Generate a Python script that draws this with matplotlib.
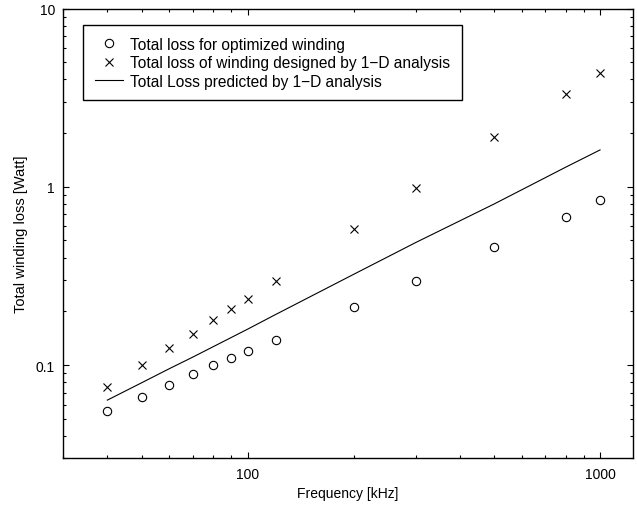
import matplotlib
matplotlib.use("Agg")
import matplotlib.pyplot as plt
from matplotlib.ticker import FuncFormatter, NullFormatter, LogLocator

plt.rcParams['font.family'] = ['Liberation Sans', 'DejaVu Sans']

# frequency points [kHz]
freq = [40, 50, 60, 70, 80, 90, 100, 120, 200, 300, 500, 800, 1000]

# total loss for optimized winding [W]
loss_opt = [0.055, 0.0665, 0.0773, 0.0893, 0.0995, 0.110, 0.120, 0.138,
            0.213, 0.297, 0.458, 0.681, 0.843]

# total loss of winding designed by 1-D analysis [W]
loss_1d = [0.0756, 0.100, 0.124, 0.150, 0.178, 0.205, 0.235, 0.297,
           0.582, 0.99, 1.91, 3.33, 4.32]

# total loss predicted by 1-D analysis [W]
loss_pred = [0.0636, 0.0795, 0.0955, 0.111, 0.127, 0.143, 0.159, 0.192,
             0.323, 0.487, 0.80, 1.29, 1.61]

fig = plt.figure(figsize=(6.37, 5.06), dpi=100)
ax = fig.add_axes([0.0994, 0.0923, 0.8943, 0.8889])

ax.plot(freq, loss_opt, linestyle='none', marker='o', markersize=6,
        markerfacecolor='none', markeredgecolor='black', markeredgewidth=0.8,
        label='Total loss for optimized winding')
ax.plot(freq, loss_1d, linestyle='none', marker='x', markersize=6,
        color='black', markeredgewidth=0.8,
        label='Total loss of winding designed by 1\u2212D analysis')
ax.plot(freq, loss_pred, color='black', linewidth=0.8,
        label='Total Loss predicted by 1\u2212D analysis')

ax.set_xscale('log')
ax.set_yscale('log')
ax.set_xlim(30, 1240)
ax.set_ylim(0.03, 10)

fmt = FuncFormatter(lambda v, p: ('%g' % v))
ax.xaxis.set_major_formatter(fmt)
ax.yaxis.set_major_formatter(fmt)
ax.xaxis.set_minor_formatter(NullFormatter())
ax.yaxis.set_minor_formatter(NullFormatter())
ax.xaxis.set_minor_locator(LogLocator(base=10, subs=range(2, 10)))
ax.yaxis.set_minor_locator(LogLocator(base=10, subs=range(2, 10)))

ax.tick_params(which='both', direction='in', top=True, right=True,
               labelsize=10, width=0.8)
ax.tick_params(which='major', length=4, pad=6)
ax.tick_params(which='minor', length=2)
for s in ax.spines.values():
    s.set_linewidth(1.0)

ax.set_xlabel('Frequency [kHz]', fontsize=10, labelpad=4)
ax.set_ylabel('Total winding loss [Watt]', fontsize=10.5, labelpad=6)

leg = ax.legend(loc='upper left', bbox_to_anchor=(0.0346, 0.963),
                borderaxespad=0, fancybox=False, framealpha=1,
                edgecolor='black', fontsize=11.2, handlelength=1.8,
                handletextpad=0.5, labelspacing=0.22, borderpad=0.75)
leg.get_frame().set_linewidth(1.0)

fig.savefig('out.png', dpi=100)
